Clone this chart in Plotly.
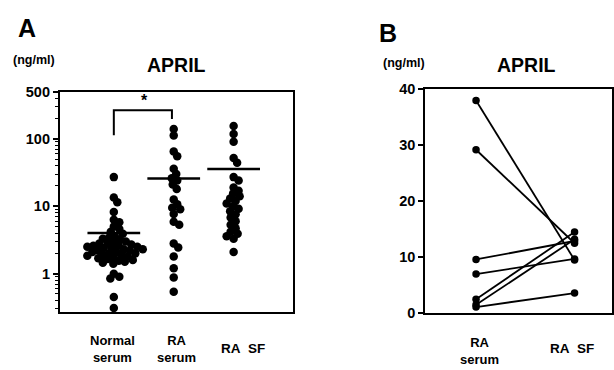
import numpy as np
import plotly.graph_objects as go

# ---------------- data ----------------
groups_a = ["Normal serum", "RA serum", "RA SF"]
normal_serum = [27, 13.5, 11.5, 8.2, 6.3, 5.8, 5.0, 4.6, 4.2, 3.9, 3.6, 3.4, 3.3, 3.2, 3.0,
                2.9, 2.8, 2.8, 2.7, 2.6, 2.6, 2.5, 2.5, 2.4, 2.4, 2.3, 2.3, 2.2, 2.2, 2.1,
                2.1, 2.0, 2.0, 1.9, 1.9, 1.85, 1.8, 1.75, 1.7, 1.65, 1.6, 1.55, 1.5, 1.45,
                1.4, 1.0, 0.9, 0.85, 0.45, 0.31]
ra_serum = [140, 112, 65, 55, 36, 30, 26, 24, 21, 18, 12.6, 10.7, 9.5, 9.0, 7.7, 5.9,
            5.3, 2.8, 2.45, 1.8, 1.2, 0.88, 0.54]
ra_sf = [155, 118, 90, 52, 44, 27, 24, 19, 17, 15.5, 14, 13, 12, 11, 10, 9.2, 8.4, 7.6,
         6.8, 6.0, 5.3, 4.7, 4.2, 3.9, 3.6, 3.3, 2.1]
group_means = [4.0, 25.7, 35.5]
bracket_ends = [113, 264, 196]  # ng/ml levels of the significance bracket

pair_labels = ["RA serum", "RA SF"]
pair_serum = [38, 29.2, 9.6, 7.0, 2.5, 1.5, 1.1]
pair_sf = [9.5, 12.5, 12.9, 9.7, 14.5, 13.2, 3.6]

# ---------------- layout constants ----------------
W, H = 614, 370
FONT = "Liberation Sans"
PX_PER_DECADE = 70.5
PX_PER_CAT = 60.0


def beeswarm(vals, d=6.0):
    ys = np.log10(np.asarray(vals, float)) * PX_PER_DECADE
    order = np.argsort(-ys)
    placed = []
    offs = np.zeros(len(ys))
    cands = [0.0]
    for k in range(1, 80):
        cands += [k * 0.5, -k * 0.5]
    for i in order:
        for c in cands:
            ok = True
            for (px, py) in placed:
                if (px - c) ** 2 + (py - ys[i]) ** 2 < d * d:
                    ok = False
                    break
            if ok:
                offs[i] = c
                placed.append((c, ys[i]))
                break
    return offs / PX_PER_CAT


fig = go.Figure()

# Panel A dots
for gi, vals in enumerate([normal_serum, ra_serum, ra_sf]):
    off = beeswarm(vals)
    fig.add_trace(go.Scatter(x=gi + off, y=vals, mode="markers",
                             marker=dict(color="black", size=8.5),
                             xaxis="x", yaxis="y", showlegend=False, hoverinfo="skip"))
    # mean line
    fig.add_trace(go.Scatter(x=[gi - 0.44, gi + 0.44], y=[group_means[gi]] * 2, mode="lines",
                             line=dict(color="black", width=2.5),
                             xaxis="x", yaxis="y", showlegend=False, hoverinfo="skip"))

# significance bracket
fig.add_trace(go.Scatter(x=[0, 0, 0.97, 0.97],
                         y=[bracket_ends[0], bracket_ends[1], bracket_ends[1], bracket_ends[2]],
                         mode="lines", line=dict(color="black", width=2),
                         xaxis="x", yaxis="y", showlegend=False, hoverinfo="skip"))

# Panel B paired lines
for s, f in zip(pair_serum, pair_sf):
    fig.add_trace(go.Scatter(x=[0, 1], y=[s, f], mode="lines+markers",
                             line=dict(color="black", width=1.8),
                             marker=dict(color="black", size=7.5),
                             xaxis="x2", yaxis="y2", showlegend=False, hoverinfo="skip"))


def px2x(px):
    return px / W


def px2y(py):
    return 1 - py / H


axis_common = dict(showline=True, linecolor="black", linewidth=2, mirror=True,
                   showgrid=False, zeroline=False)
tickfont = dict(family=FONT, size=14.5, color="black", weight="bold")

minor_vals = [0.3, 0.4, 0.5, 0.6, 0.7, 0.8, 0.9, 2, 3, 4, 5, 6, 7, 8, 9,
              20, 30, 40, 50, 60, 70, 80, 90, 200, 300, 400]

fig.update_layout(
    width=W, height=H, margin=dict(l=0, r=0, t=0, b=0),
    paper_bgcolor="white", plot_bgcolor="white",
    xaxis=dict(domain=[px2x(60), px2x(293)], range=[-0.9, 2.983], anchor="y",
               showticklabels=False, ticks="", **axis_common),
    yaxis=dict(domain=[px2y(318), px2y(87.4)], type="log",
               range=[np.log10(0.268), np.log10(500)], anchor="x",
               tickmode="array", tickvals=[1, 10, 100, 500], ticktext=["1", "10", "100", "500"],
               ticks="outside", ticklen=5, tickwidth=1.5, tickcolor="black",
               minor=dict(tickmode="array", tickvals=minor_vals, ticks="outside",
                          ticklen=3, tickwidth=1, tickcolor="black", showgrid=False),
               tickfont=tickfont, **axis_common),
    xaxis2=dict(domain=[px2x(426), 0.999], range=[-0.515, 1.384], anchor="y2",
                showticklabels=False, ticks="", **axis_common),
    yaxis2=dict(domain=[px2y(319), px2y(85)], range=[0, 40], anchor="x2",
                tickmode="array", tickvals=[0, 10, 20, 30, 40],
                ticks="outside", ticklen=5, tickwidth=1.5, tickcolor="black",
                tickfont=tickfont, **axis_common),
)


def ann(text, cx, cy, size, **kw):
    fig.add_annotation(text=text, x=px2x(cx), y=px2y(cy), xref="paper", yref="paper",
                       showarrow=False, xanchor="center", yanchor="middle",
                       font=dict(family=FONT, size=size, color="black", weight="bold"), **kw)


ann("A", 27, 21, 25)
ann("(ng/ml)", 34, 54, 12.5)
ann("APRIL", 177, 60, 19.5)
ann("B", 389, 26, 25)
ann("(ng/ml)", 405, 57, 12.5)
ann("APRIL", 527, 60, 19.5)
ann("*", 145, 97, 16)

ann("Normal<br>serum", 113, 356, 13)
ann("RA<br>serum", 177, 356, 13)
ann("RA&nbsp; SF", 243, 356, 13.5)
ann("RA<br>serum", 480, 358, 13)
ann("RA&nbsp; SF", 573, 356, 13.5)

fig.write_html("out.html")
